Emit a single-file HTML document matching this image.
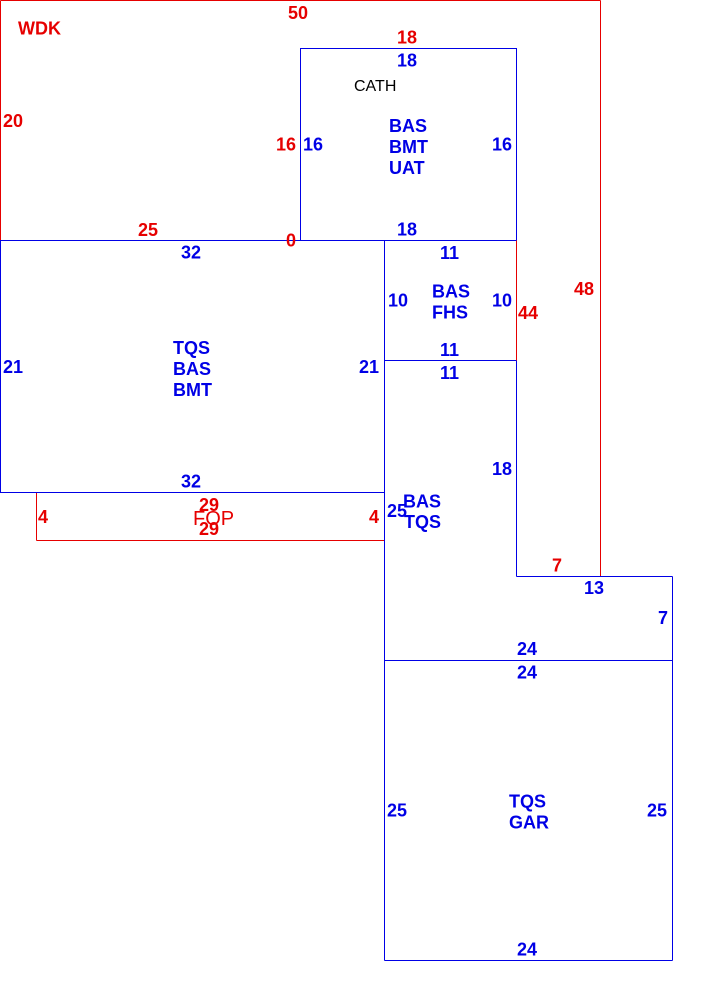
<!DOCTYPE html>
<html>
<head>
<meta charset="utf-8">
<style>
  html,body{margin:0;padding:0;background:#fff;}
  svg{display:block;}
  text{font-family:"Liberation Sans",Arial,sans-serif;}
  .b{fill:#0000e6;font-weight:bold;font-size:18px;}
  .r{fill:#e60000;font-weight:bold;font-size:18px;}
</style>
</head>
<body>
<svg width="723" height="990" viewBox="0 0 723 990" xmlns="http://www.w3.org/2000/svg">
  <rect x="0" y="0" width="723" height="990" fill="#fff"/>
  <g fill="none" stroke-width="1" shape-rendering="crispEdges">
    <!-- red outer WDK -->
    <g stroke="#e60000">
      <line x1="0.5" y1="0.5" x2="600.5" y2="0.5"/>
      <line x1="600.5" y1="0.5" x2="600.5" y2="576.5"/>
      <line x1="0.5" y1="0.5" x2="0.5" y2="240.5"/>
      <!-- FOP -->
      <line x1="36.5" y1="492.5" x2="36.5" y2="540.5"/>
      <line x1="36.5" y1="540.5" x2="384.5" y2="540.5"/>
    </g>
    <!-- blue -->
    <g stroke="#0000e6">
      <rect x="300.5" y="48.5" width="216" height="192"/>
      <rect x="0.5" y="240.5" width="384" height="252"/>
      <line x1="384.5" y1="240.5" x2="384.5" y2="960.5"/>
      <line x1="384.5" y1="240.5" x2="516.5" y2="240.5"/>
      <line x1="384.5" y1="360.5" x2="516.5" y2="360.5"/>
      <line x1="516.5" y1="360.5" x2="516.5" y2="576.5"/>
      <line x1="516.5" y1="576.5" x2="672.5" y2="576.5"/>
      <line x1="672.5" y1="576.5" x2="672.5" y2="960.5"/>
      <line x1="384.5" y1="660.5" x2="672.5" y2="660.5"/>
      <line x1="384.5" y1="960.5" x2="672.5" y2="960.5"/>
    </g>
    <g stroke="#e60000">
      <line x1="516.5" y1="240.5" x2="516.5" y2="360.5"/>
    </g>
  </g>

  <!-- red labels -->
  <text class="r" x="288" y="19">50</text>
  <text class="r" x="18" y="34.5">WDK</text>
  <text class="r" x="3" y="127">20</text>
  <text class="r" x="276" y="150.5">16</text>
  <text class="r" x="138" y="236">25</text>
  <text class="r" x="286" y="246.5">0</text>
  <text class="r" x="397" y="43.5">18</text>
  <text class="r" x="518" y="319">44</text>
  <text class="r" x="574" y="295">48</text>
  <text class="r" x="552" y="571.5">7</text>
  <text class="r" x="38" y="523">4</text>
  <text class="r" x="369" y="523">4</text>
  <text class="r" x="199" y="511">29</text>
  <text x="193" y="525" fill="#e60000" font-size="20">FOP</text>
  <text class="r" x="199" y="535">29</text>

  <!-- CATH -->
  <text x="354" y="91" fill="#000" font-size="16">CATH</text>

  <!-- blue labels: CATH box -->
  <text class="b" x="397" y="66.5">18</text>
  <text class="b" x="303" y="150.5">16</text>
  <text class="b" x="492" y="150.5">16</text>
  <text class="b" x="397" y="235.5">18</text>
  <text class="b" x="389" y="132">BAS</text>
  <text class="b" x="389" y="153">BMT</text>
  <text class="b" x="389" y="174">UAT</text>

  <!-- main box -->
  <text class="b" x="181" y="258.5">32</text>
  <text class="b" x="3" y="373">21</text>
  <text class="b" x="359" y="373">21</text>
  <text class="b" x="181" y="487.5">32</text>
  <text class="b" x="173" y="354">TQS</text>
  <text class="b" x="173" y="375">BAS</text>
  <text class="b" x="173" y="396">BMT</text>

  <!-- BAS FHS box -->
  <text class="b" x="440" y="259">11</text>
  <text class="b" x="388" y="306.5">10</text>
  <text class="b" x="492" y="306.5">10</text>
  <text class="b" x="440" y="356">11</text>
  <text class="b" x="432" y="297.5">BAS</text>
  <text class="b" x="432" y="318.5">FHS</text>

  <!-- lower L box -->
  <text class="b" x="440" y="379">11</text>
  <text class="b" x="492" y="475">18</text>
  <text class="b" x="387" y="517">25</text>
  <text class="b" x="403" y="507.5">BAS</text>
  <text class="b" x="404" y="528">TQS</text>
  <text class="b" x="584" y="594">13</text>
  <text class="b" x="658" y="624">7</text>
  <text class="b" x="517" y="655">24</text>

  <!-- TQS GAR box -->
  <text class="b" x="517" y="678.5">24</text>
  <text class="b" x="387" y="816.5">25</text>
  <text class="b" x="647" y="816.5">25</text>
  <text class="b" x="509" y="807.5">TQS</text>
  <text class="b" x="509" y="828.5">GAR</text>
  <text class="b" x="517" y="955.5">24</text>
</svg>
</body>
</html>
